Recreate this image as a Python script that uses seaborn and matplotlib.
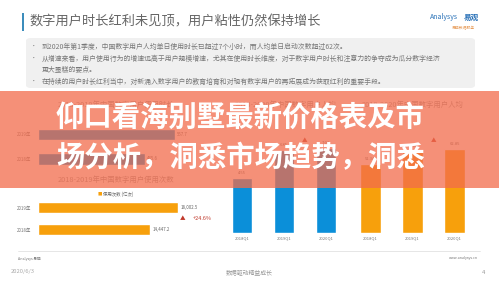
import matplotlib
matplotlib.use('Agg')
import matplotlib.pyplot as plt
import seaborn as sns
import pandas as pd
from matplotlib.patches import Rectangle, FancyBboxPatch
from matplotlib.lines import Line2D

# ---------------- data ----------------
title = '数字用户时长红利未见顶，用户粘性仍然保持增长'
bullets = [
    '到2020年第1季度，中国数字用户人均单日使用时长已超过7个小时，而人均单日启动次数超过62次。',
    '从增速来看，用户使用行为的增速远高于用户规模增速，尤其在使用时长维度，对于数字用户时长和注意力的争夺成为瓜分数字经济',
    '更大蛋糕的要点。',
    '在持续的用户时长红利当中，对新涌入数字用户的教育培育和对现有数字用户的再拓展成为获取红利的重要手段。',
]
banner_lines = ['仰口看海别墅最新价格表及市', '场分析，洞悉市场趋势，洞悉']

years_h = ['2019年', '2018年']
duration_vals = [557.7, 435.6]
duration_labels = ['557.7', '435.6']
times_vals = [18002.5, 14447.2]
times_labels = ['18,002.5', '14,447.2']
times_growth = '+24.6%'

quarters = ['2018Q1', '2019Q1', '2020Q1']
hours_vals = [4.55, 6.85, 7.03]
hours_labels = ['4.55', '6.85', '7.03']
starts_vals = [51.34, 61.60, 62.85]
starts_labels = ['51.34', '61.60', '62.85']

sub_duration = '2018-2019年中国数字用户使用时长'
sub_times = '2018-2019年中国数字用户使用次数'
sub_hours = '2018-2020年中国数字用户人均'
sub_starts = '2018-2020年中国数字用户人均'
legend_times = '使用次数 (亿次)'

BLUE = '#0B8FD9'
ORANGE = '#F7A00C'
RED = '#C0392B'

# ---------------- figure ----------------
sns.set_theme(style='white')
plt.rcParams['font.family'] = ['Noto Sans CJK SC', 'DejaVu Sans']

W, H = 499, 281
fig = plt.figure(figsize=(W / 100, H / 100), dpi=100)
fig.patch.set_facecolor('white')


def fx(x):
    return x / W


def fy(y):
    return 1 - y / H


def ax_px(x0, y0, x1, y1):
    return fig.add_axes([fx(x0), fy(y1), (x1 - x0) / W, (y1 - y0) / H])


def ftext(x, y, s, **kw):
    kw.setdefault('va', 'center')
    return fig.text(fx(x), fy(y), s, **kw)


# ---- header ----
fig.add_artist(Rectangle((fx(22), fy(31)), 2 / W, 18 / H, transform=fig.transFigure,
                         color='#3C8DBC', lw=0))
ftext(29, 22, title, fontsize=9.5, color='#666666')
ftext(430, 17, 'Analysys', fontsize=5, color='#2A72B8', style='italic')
ftext(464, 17, '易观', fontsize=5.5, color='#2A72B8', fontweight='bold')
ftext(452, 28, '易观数据服务', fontsize=2.8, color='#E8A060')

# ---- bullet box ----
fig.add_artist(FancyBboxPatch((fx(26), fy(88)), 449 / W, 50 / H,
                              boxstyle='round,pad=0,rounding_size=0.01',
                              transform=fig.transFigure, facecolor='#F0F0F0',
                              edgecolor='none'))
for yy, txt, dot in zip([47, 59, 70, 82], bullets, [True, True, False, True]):
    if dot:
        ftext(31, yy, '•', fontsize=4, color='#777777')
    ftext(42, yy, txt, fontsize=4.95, color='#777777')

# ---- upper-left: duration horizontal bars ----
ax1 = ax_px(38, 122.25, 185.4, 171.25)
sns.barplot(x=duration_vals, y=years_h, color=BLUE, width=0.45, ax=ax1,
            orient='h', saturation=1)
ax1.set_xlim(0, 600)
ax1.set_ylim(1.5, -0.5)
for i, (v, lab) in enumerate(zip(duration_vals, duration_labels)):
    ax1.text(v + 6, i, lab, fontsize=3.2, color='#666666', va='center')
ftext(58, 105, sub_duration, fontsize=5.3, color='#999999')

# ---- lower-left: times horizontal bars ----
ax2 = ax_px(38, 196.5, 193.5, 240.5)
sns.barplot(x=times_vals, y=years_h, color=ORANGE, width=0.5, ax=ax2,
            orient='h', saturation=1)
ax2.set_xlim(0, 20000)
ax2.set_ylim(1.5, -0.5)
for i, (v, lab) in enumerate(zip(times_vals, times_labels)):
    ax2.text(v + 300, i, lab, fontsize=3.2, color='#666666', va='center')
ax2.text(times_vals[1] + 3800, 0.5, '▲', fontsize=4, color=RED, va='center')
ax2.text(times_vals[1] + 5500, 0.5, times_growth, fontsize=4, color=RED, va='center')
ftext(58, 180, sub_times, fontsize=5.3, color='#999999')
fig.text(fx(98), fy(194), '■', fontsize=3.2, color=ORANGE, va='center')
ftext(103, 194, legend_times, fontsize=3.2, color='#666666')

for ax in (ax1, ax2):
    ax.set_xlabel('')
    ax.set_ylabel('')
    ax.set_xticks([])
    ax.tick_params(axis='y', length=0, pad=5, labelsize=3.2, labelcolor='#777777')
    for sp in ax.spines.values():
        sp.set_visible(False)
    ax.set_facecolor('none')

# ---- middle: hours vertical bars ----
ax3 = ax_px(221, 112.1, 347, 233)
sns.barplot(x=quarters, y=hours_vals, color=BLUE, width=0.48, ax=ax3, saturation=1)
ax3.set_ylim(0, 10)
for i, (v, lab) in enumerate(zip(hours_vals, hours_labels)):
    ax3.text(i, v + 0.35, lab, fontsize=3, color='#666666', ha='center')
ax3.text(1.5, hours_vals[2] + 0.5, '▲', fontsize=4, color=RED, ha='center')
ftext(235, 105, sub_hours, fontsize=5.3, color='#999999')

# ---- right: starts vertical bars ----
ax4 = ax_px(349.5, 112.7, 475.5, 233)
sns.barplot(x=quarters, y=starts_vals, color=ORANGE, width=0.5, ax=ax4, saturation=1)
ax4.set_ylim(0, 90)
for i, (v, lab) in enumerate(zip(starts_vals, starts_labels)):
    ax4.text(i, v + 3, lab, fontsize=3, color='#666666', ha='center')
ax4.text(1.5, starts_vals[2] + 5, '▲', fontsize=4, color=RED, ha='center')
ftext(362, 105, sub_starts, fontsize=5.3, color='#999999')

for ax in (ax3, ax4):
    ax.set_xlabel('')
    ax.set_ylabel('')
    ax.set_yticks([])
    ax.tick_params(axis='x', length=0, pad=2.5, labelsize=3, labelcolor='#777777')
    for sp in ax.spines.values():
        sp.set_visible(False)
    ax.axhline(0, color='#e4e4e4', lw=0.5)
    ax.set_facecolor('none')

# ---- footer ----
fig.add_artist(Line2D([fx(18), fx(480)], [fy(251), fy(251)], transform=fig.transFigure,
                      color='#e2e2e2', lw=0.6))
ftext(18, 259, 'Analysys 易观', fontsize=2.6, color='#777777')
ftext(478, 258, 'www.analysys.cn', fontsize=2.6, color='#777777', ha='right')
ftext(11, 272, '2020/6/3', fontsize=4.2, color='#aaaaaa')
ftext(226, 272, '数据驱动精益成长', fontsize=4.2, color='#999999')
ftext(482, 272, '4', fontsize=4.2, color='#999999')

# ---- overlay banner ----
fig.add_artist(Rectangle((0, fy(188)), 1, 97 / H, transform=fig.transFigure,
                         facecolor='#F26B4B', alpha=0.75, lw=0, zorder=5))
for yy, txt in zip([118, 158], banner_lines):
    ftext(56, yy, txt, fontsize=20.4, color='white', fontweight='heavy', zorder=6)

fig.savefig('out.png', dpi=100)
